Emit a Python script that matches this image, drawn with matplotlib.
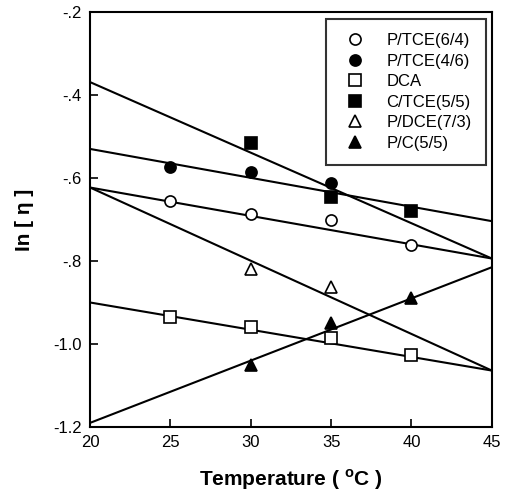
import matplotlib
matplotlib.use('Agg')
import matplotlib.pyplot as plt

plt.rcParams['font.family'] = ['Liberation Sans', 'DejaVu Sans']

# Series
labels = ['P/TCE(6/4)', 'P/TCE(4/6)', 'DCA', 'C/TCE(5/5)', 'P/DCE(7/3)', 'P/C(5/5)']
markers = ['o', 'o', 's', 's', '^', '^']
filled = [False, True, False, True, False, True]

temp_pt = {
    'P/TCE(6/4)': [25, 30, 35, 40],
    'P/TCE(4/6)': [25, 30, 35],
    'DCA': [25, 30, 35, 40],
    'C/TCE(5/5)': [30, 35, 40],
    'P/DCE(7/3)': [30, 35],
    'P/C(5/5)': [30, 35, 40],
}
ln_eta = {
    'P/TCE(6/4)': [-0.655, -0.687, -0.701, -0.761],
    'P/TCE(4/6)': [-0.573, -0.585, -0.613],
    'DCA': [-0.934, -0.960, -0.986, -1.027],
    'C/TCE(5/5)': [-0.515, -0.645, -0.679],
    'P/DCE(7/3)': [-0.820, -0.862],
    'P/C(5/5)': [-1.051, -0.950, -0.890],
}

# fitted lines, value at 20 and 45 C
line_t = [20, 45]
line_y = {
    'P/TCE(6/4)': [-0.623, -0.794],
    'P/TCE(4/6)': [-0.530, -0.704],
    'DCA': [-0.900, -1.064],
    'C/TCE(5/5)': [-0.369, -0.794],
    'P/DCE(7/3)': [-0.623, -1.064],
    'P/C(5/5)': [-1.19, -0.815],
}

xticks = [20, 25, 30, 35, 40, 45]
yticks = [-0.2, -0.4, -0.6, -0.8, -1.0, -1.2]
ytick_labels = ['-.2', '-.4', '-.6', '-.8', '-1.0', '-1.2']

fig = plt.figure(figsize=(5.15, 5.0), dpi=100)
ax = fig.add_axes([0.175, 0.146, 0.78, 0.83])

for name in labels:
    ax.plot(line_t, line_y[name], color='black', lw=1.5, zorder=2)

for name, m, f in zip(labels, markers, filled):
    ax.plot(temp_pt[name], ln_eta[name], linestyle='none', marker=m,
            markersize=8, markeredgecolor='black', markeredgewidth=1.2,
            markerfacecolor='black' if f else 'white', label=name, zorder=3)

ax.set_xlim(20, 45)
ax.set_ylim(-1.2, -0.2)
ax.set_xticks(xticks)
ax.set_yticks(yticks)
ax.set_yticklabels(ytick_labels)
ax.tick_params(direction='in', length=6, width=1.2, labelsize=12, top=False, right=False, pad=6)
for s in ax.spines.values():
    s.set_linewidth(1.5)

ax.set_xlabel('Temperature ( $^{\\mathregular{o}}$C )', fontsize=15, fontweight='bold', labelpad=12)
ax.set_ylabel('In [ η ]', fontsize=15, fontweight='bold', labelpad=14)

leg = ax.legend(loc='upper right', bbox_to_anchor=(0.985, 0.983), borderaxespad=0,
                fontsize=12, frameon=True, fancybox=False, edgecolor='black',
                handletextpad=1.0, labelspacing=0.33, borderpad=0.85, handlelength=1.8)
leg.get_frame().set_linewidth(1.5)

fig.savefig('out.png', dpi=100)
